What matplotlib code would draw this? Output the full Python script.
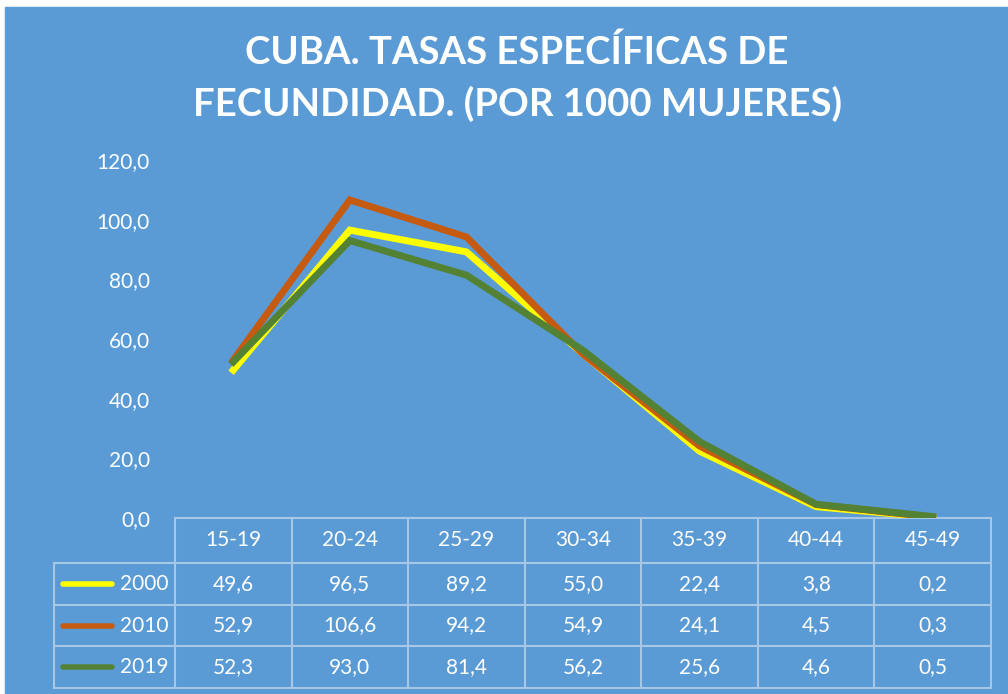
import matplotlib
matplotlib.use("Agg")
import matplotlib.pyplot as plt
from matplotlib.patches import Rectangle
import matplotlib.transforms as mtransforms

# data
groups = ["15-19", "20-24", "25-29", "30-34", "35-39", "40-44", "45-49"]
years = ["2000", "2010", "2019"]
rates_2000 = [49.6, 96.5, 89.2, 55.0, 22.4, 3.8, 0.2]
rates_2010 = [52.9, 106.6, 94.2, 54.9, 24.1, 4.5, 0.3]
rates_2019 = [52.3, 93.0, 81.4, 56.2, 25.6, 4.6, 0.5]
yticks = [0, 20, 40, 60, 80, 100, 120]

series = [rates_2000, rates_2010, rates_2019]
colors = ["#FFFF00", "#C55A11", "#548235"]
bg = "#5B9BD5"
grid_col = "#A7C7E7"

plt.rcParams["font.family"] = ["Lato", "DejaVu Sans"]

fig = plt.figure(figsize=(10.08, 6.94), dpi=100)
fig.patch.set_facecolor("white")
fig.patches.append(Rectangle((5 / 1008, 0), 1, (694 - 7) / 694,
                             transform=fig.transFigure, color=bg, zorder=-5))

ax = fig.add_axes([175 / 1008, (694 - 518) / 694, 816 / 1008, 358 / 694])
ax.set_facecolor(bg)
ax.patch.set_alpha(0)

x = range(len(groups))
for vals, c in zip(series, colors):
    ax.plot(x, vals, color=c, lw=5, solid_joinstyle="miter", zorder=3)

ax.set_xlim(-0.5, len(groups) - 0.5)
ax.set_ylim(0, 120)
ax.set_yticks(yticks)
ax.set_yticklabels([f"{v:.1f}".replace(".", ",") for v in yticks],
                   color="white", fontsize=15)
ax.tick_params(axis="y", length=0, pad=18)
ax.set_xticks([])
for s in ax.spines.values():
    s.set_visible(False)

# data table below the plot
trans = mtransforms.blended_transform_factory(ax.transData, ax.transAxes)
label_left = -0.5 - 121 / 116.6
head_h = 45 / 358
row_h = 41.7 / 358
row_bounds = [-head_h - i * row_h for i in range(len(years) + 1)]
n = len(groups)

line_kw = dict(color=grid_col, lw=1.5, transform=trans, clip_on=False, zorder=2)
ax.plot([-0.5, n - 0.5], [0, 0], **line_kw)
for i in range(n + 1):
    ax.plot([i - 0.5, i - 0.5], [0, row_bounds[-1]], **line_kw)
ax.plot([label_left, label_left], [row_bounds[0], row_bounds[-1]], **line_kw)
for yb in row_bounds:
    ax.plot([label_left, n - 0.5], [yb, yb], **line_kw)

for i, g in enumerate(groups):
    ax.text(i, -head_h / 2, g, transform=trans, ha="center", va="center",
            color="white", fontsize=15)

for r, (yr, vals, c) in enumerate(zip(years, series, colors)):
    yc = row_bounds[r] - row_h / 2
    for i, v in enumerate(vals):
        ax.text(i, yc, f"{v:.1f}".replace(".", ","), transform=trans,
                ha="center", va="center", color="white", fontsize=15)
    ax.plot([label_left + 0.08, label_left + 0.50], [yc, yc], color=c, lw=4,
            transform=trans, clip_on=False, solid_capstyle="round", zorder=3)
    ax.text(-0.56, yc, yr, transform=trans, ha="right", va="center",
            color="white", fontsize=15)

fig.text(0.513, 0.925, "CUBA. TASAS ESPECÍFICAS DE", ha="center", va="center",
         color="white", fontsize=27.5, fontweight="bold")
fig.text(0.513, 0.851, "FECUNDIDAD. (POR 1000 MUJERES)", ha="center",
         va="center", color="white", fontsize=27.5, fontweight="bold")

fig.savefig("out.png", dpi=100, facecolor=fig.get_facecolor())
